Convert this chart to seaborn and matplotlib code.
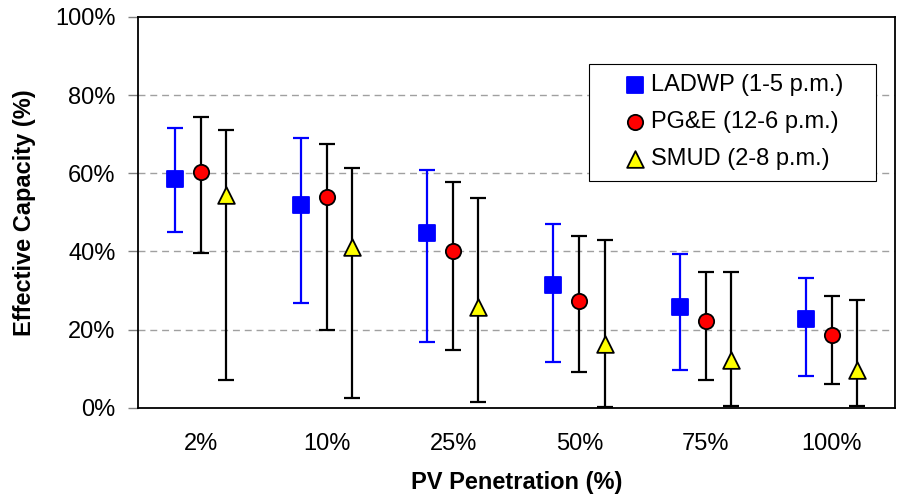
import numpy as np
import pandas as pd
import matplotlib
matplotlib.use("Agg")
import matplotlib.pyplot as plt
import seaborn as sns
from matplotlib.ticker import FixedLocator, PercentFormatter

# data (percent)
penetration = ["2%", "10%", "25%", "50%", "75%", "100%"]
series = ["LADWP (1-5 p.m.)", "PG&E (12-6 p.m.)", "SMUD (2-8 p.m.)"]

ladwp_mid = [58.6, 52.0, 44.8, 31.4, 25.8, 22.8]
ladwp_low = [45.0, 26.7, 16.8, 11.7, 9.7, 8.1]
ladwp_high = [71.7, 69.1, 60.8, 47.1, 39.3, 33.2]

pge_mid = [60.2, 54.0, 40.2, 27.3, 22.3, 18.7]
pge_low = [39.5, 19.9, 14.8, 9.1, 7.2, 6.1]
pge_high = [74.4, 67.6, 57.8, 44.0, 34.8, 28.6]

smud_mid = [54.4, 41.2, 25.8, 16.4, 12.3, 9.7]
smud_low = [7.2, 2.6, 1.4, 0.3, 0.4, 0.4]
smud_high = [71.1, 61.4, 53.7, 43.0, 34.8, 27.6]

offsets = [-0.205, 0.0, 0.2]
markers = ["s", "o", "^"]
face = ["#0000ff", "#ff0000", "#ffff00"]
edge = ["#0000ff", "black", "black"]
bar_col = ["#0000ff", "black", "black"]
msize = [11.5, 11, 12]

mids = [ladwp_mid, pge_mid, smud_mid]
lows = [ladwp_low, pge_low, smud_low]
highs = [ladwp_high, pge_high, smud_high]

rows = []
for s, name in enumerate(series):
    for i, cat in enumerate(penetration):
        rows.append({"series": name, "x": i + offsets[s], "y": mids[s][i],
                     "lo": lows[s][i], "hi": highs[s][i]})
df = pd.DataFrame(rows)

sns.set_theme(style="white")
plt.rcParams["font.family"] = ["Liberation Sans", "DejaVu Sans"]
plt.rcParams["text.color"] = "black"
plt.rcParams["axes.labelcolor"] = "black"
plt.rcParams["xtick.color"] = "black"
plt.rcParams["ytick.color"] = "black"

fig = plt.figure(figsize=(8.98, 4.97), dpi=100)
ax = fig.add_axes([0.1534, 0.1797, 0.8430, 0.7861])

for s, name in enumerate(series):
    d = df[df["series"] == name]
    ax.errorbar(d["x"], d["y"], yerr=[d["y"] - d["lo"], d["hi"] - d["y"]],
                fmt="none", ecolor=bar_col[s], elinewidth=1.6, capsize=5.5,
                capthick=1.6, zorder=2)

for s, name in enumerate(series):
    d = df[df["series"] == name]
    sns.scatterplot(data=d, x="x", y="y", ax=ax, marker=markers[s],
                    color=face[s], edgecolor=edge[s], linewidth=1.3,
                    s=msize[s] ** 2, label=name, zorder=3)

ax.set_xlim(-0.5, 5.5)
ax.set_ylim(0, 100)
ax.set_yticks([0, 20, 40, 60, 80, 100])
ax.yaxis.set_major_formatter(PercentFormatter(decimals=0))
ax.set_xticks(range(len(penetration)))
ax.set_xticklabels(penetration)
ax.xaxis.set_minor_locator(FixedLocator(np.arange(-0.5, 6.0, 1.0)))
ax.tick_params(axis="x", which="major", length=0, pad=18, labelsize=17, labelcolor="black")
ax.tick_params(axis="x", which="minor", length=5, width=1, color="#808080", direction="out")
ax.tick_params(axis="y", which="major", length=7, width=1, color="#808080",
               direction="out", left=True, labelsize=17, pad=9, labelcolor="black")

for v in [20, 40, 60, 80]:
    ax.axhline(v, color="#a0a0a0", linestyle=(0, (5, 3.5)), linewidth=1, zorder=1)

for sp in ax.spines.values():
    sp.set_color("black")
    sp.set_linewidth(1.3)
    sp.set_visible(True)

ax.set_xlabel("PV Penetration (%)", fontsize=17, fontweight="bold", labelpad=12, color="black")
ax.set_ylabel("Effective Capacity (%)", fontsize=17, fontweight="bold", labelpad=14, color="black")

# legend box spans x 589..876, y 64..177 px in the reference
x0 = (589 - 137.7) / 757.0
w = (876 - 589) / 757.0
y1 = (407.7 - 64) / 390.7
h = (177 - 64) / 390.7
leg = ax.legend(loc="upper left", bbox_to_anchor=(x0, y1 - h, w, h), mode="expand",
                fontsize=17, frameon=True, fancybox=False, framealpha=1,
                edgecolor="black", handletextpad=-0.83, borderpad=0.44,
                labelspacing=0.63, handlelength=3.0, borderaxespad=0)
leg.get_frame().set_linewidth(0.8)

fig.savefig("out.png", dpi=100)
